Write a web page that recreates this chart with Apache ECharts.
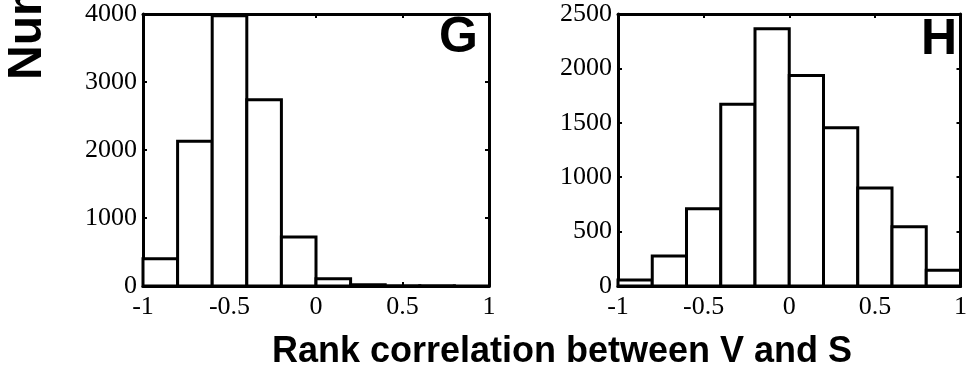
<!DOCTYPE html>
<html>
<head>
<meta charset="utf-8">
<script src="https://cdn.jsdelivr.net/npm/echarts@6/dist/echarts.min.js"></script>
<style>
html,body{margin:0;padding:0;background:#fff;}
#chart{width:970px;height:368px;}
</style>
</head>
<body>
<div id="chart"></div>
<script>
// Bin edges (rank correlation) shared by both histograms
var binEdges = [-1, -0.8, -0.6, -0.4, -0.2, 0, 0.2, 0.4, 0.6, 0.8, 1];
// Panel G counts
var countsG = [400, 2130, 3975, 2740, 720, 105, 20, 4, 2, 1];
// Panel H counts
var countsH = [55, 275, 710, 1670, 2365, 1935, 1455, 900, 545, 145];
// Tick settings
var xTicks = [-1, -0.5, 0, 0.5, 1];
var yMaxG = 4000, yStepG = 1000;
var yMaxH = 2500, yStepH = 500;
var panelLetters = ['G', 'H'];
var xTitle = 'Rank correlation between V and S';
var yTitle = 'Number';

function binData(counts) {
  var out = [];
  for (var i = 0; i < counts.length; i++) out.push([binEdges[i], binEdges[i + 1], counts[i]]);
  return out;
}

var chart = echarts.init(document.getElementById('chart'), null, {renderer: 'canvas'});

var serifLabel = {fontFamily: '"Liberation Serif", "Times New Roman", serif', fontSize: 26, color: '#000',
                  formatter: function (v) { return String(v); }};

function makeX(gi, pos, showLabel) {
  return {
    type: 'value', gridIndex: gi, position: pos,
    min: xTicks[0], max: xTicks[xTicks.length - 1], interval: 0.5,
    axisLine: {show: true, onZero: false, lineStyle: {color: '#000', width: 3}},
    axisTick: {show: true, inside: true, length: 4, lineStyle: {color: '#000', width: 2}},
    axisLabel: Object.assign({show: showLabel, margin: 8}, serifLabel),
    splitLine: {show: false}
  };
}
function makeY(gi, pos, showLabel, max, step) {
  return {
    type: 'value', gridIndex: gi, position: pos,
    min: 0, max: max, interval: step,
    axisLine: {show: true, onZero: false, lineStyle: {color: '#000', width: 3}},
    axisTick: {show: true, inside: true, length: 4, lineStyle: {color: '#000', width: 2}},
    axisLabel: Object.assign({show: showLabel, margin: 6}, serifLabel),
    splitLine: {show: false}
  };
}

function renderBar(params, api) {
  var p0 = api.coord([api.value(0), api.value(2)]);
  var p1 = api.coord([api.value(1), 0]);
  return {
    type: 'rect',
    shape: {x: p0[0], y: p0[1], width: p1[0] - p0[0], height: p1[1] - p0[1]},
    style: {fill: '#fff', stroke: '#000', lineWidth: 3}
  };
}

var option = {
  backgroundColor: '#fff',
  animation: false,
  grid: [
    {left: 143, top: 14, width: 346, height: 272},
    {left: 618, top: 14, width: 345, height: 272}
  ],
  xAxis: [
    makeX(0, 'bottom', true),
    makeX(1, 'bottom', true),
    makeX(0, 'top', false),
    makeX(1, 'top', false)
  ],
  yAxis: [
    makeY(0, 'left', true, yMaxG, yStepG),
    makeY(1, 'left', true, yMaxH, yStepH),
    makeY(0, 'right', false, yMaxG, yStepG),
    makeY(1, 'right', false, yMaxH, yStepH)
  ],
  series: [
    {type: 'custom', xAxisIndex: 0, yAxisIndex: 0, renderItem: renderBar, data: binData(countsG), z: 1},
    {type: 'custom', xAxisIndex: 1, yAxisIndex: 1, renderItem: renderBar, data: binData(countsH), z: 1}
  ],
  graphic: [
    {type: 'text', x: 478, y: 38, z: 100,
     style: {text: panelLetters[0], font: 'bold 50px "Liberation Sans", Arial, sans-serif', fill: '#000', textAlign: 'right', textVerticalAlign: 'middle'}},
    {type: 'text', x: 957, y: 40, z: 100,
     style: {text: panelLetters[1], font: 'bold 50px "Liberation Sans", Arial, sans-serif', fill: '#000', textAlign: 'right', textVerticalAlign: 'middle'}},
    {type: 'text', x: 562, y: 352, z: 100,
     style: {text: xTitle, font: 'bold 36px "Liberation Sans", Arial, sans-serif', fill: '#000', textAlign: 'center', textVerticalAlign: 'middle'}},
    {type: 'text', x: 28, y: 80, rotation: Math.PI / 2, z: 100,
     style: {text: yTitle, font: 'bold 48px "Liberation Sans", Arial, sans-serif', fill: '#000', textAlign: 'left', textVerticalAlign: 'middle'}}
  ]
};
chart.setOption(option);
</script>
</body>
</html>
